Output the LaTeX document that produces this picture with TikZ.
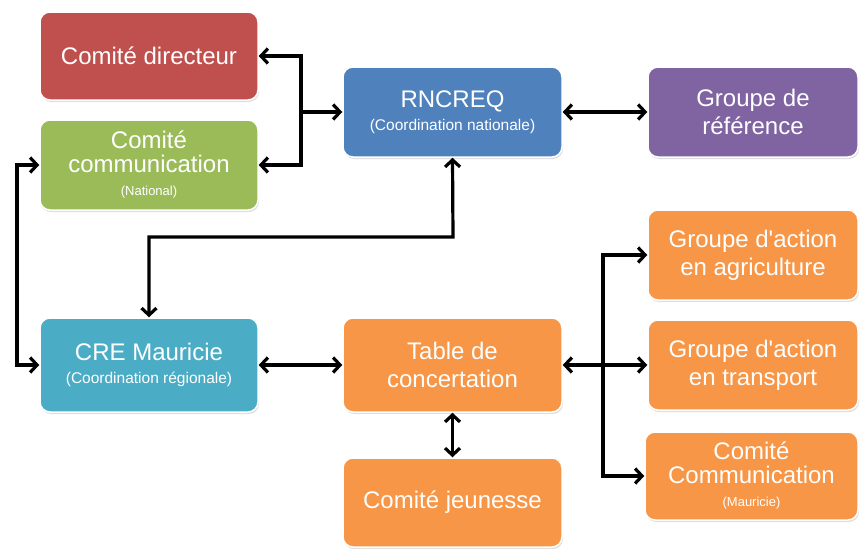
\documentclass[tikz,border=0pt]{standalone}
\usepackage{fontspec}
\setmainfont{Liberation Sans}
\usetikzlibrary{arrows.meta,shadows}
\definecolor{cred}{RGB}{192,80,77}
\definecolor{cgreen}{RGB}{155,187,89}
\definecolor{cblue}{RGB}{79,129,189}
\definecolor{cpurple}{RGB}{128,100,162}
\definecolor{ccyan}{RGB}{75,172,198}
\definecolor{corange}{RGB}{247,150,70}
\newcommand{\subtxt}{\fontsize{15.5}{17}\selectfont}
\newcommand{\tinytxt}{\fontsize{13}{14}\selectfont}
\newcommand{\apos}{\XeTeXglyph\XeTeXcharglyph"0027\relax}
\tikzset{
  box/.style={rounded corners=10pt, draw=white, line width=1.5pt, text=white,
    align=center, inner sep=2pt, font=\fontsize{24}{28}\selectfont,
    drop shadow={opacity=0.25, shadow xshift=1pt, shadow yshift=-2pt}},
  conn/.style={line width=3.2pt, >={Straight Barb[length=7pt,width=15pt]}}
}
\begin{document}
\begin{tikzpicture}[x=1pt,y=-1pt]
\useasboundingbox (0,0) rectangle (860,549);
\node[box, fill=cred, minimum width=218pt, minimum height=88pt] (dir) at (149,56) {Comité directeur};
\node[box, fill=cgreen, minimum width=218pt, minimum height=90pt] (comm) at (149,165) {Comité\\[-4pt] communication\\[-5pt] {\tinytxt (National)}};
\node[box, fill=cblue, minimum width=219pt, minimum height=90pt] (rnc) at (452.5,112) {RNCREQ\\[-5pt] {\subtxt (Coordination nationale)}};
\node[box, fill=cpurple, minimum width=210pt, minimum height=90pt] (ref) at (753,112) {Groupe de\\ référence};
\node[box, fill=ccyan, minimum width=218pt, minimum height=94pt] (cre) at (149,365) {CRE Mauricie\\[-5pt] {\subtxt (Coordination régionale)}};
\node[box, fill=corange, minimum width=219pt, minimum height=94pt] (tab) at (452.5,365) {Table de\\ concertation};
\node[box, fill=corange, minimum width=219pt, minimum height=89pt] (jeu) at (452.5,502.5) {Comité jeunesse};
\node[box, fill=corange, minimum width=210pt, minimum height=90pt] (agri) at (753,255) {Groupe d\apos action\\ en agriculture};
\node[box, fill=corange, minimum width=210pt, minimum height=90pt] (trans) at (753,365) {Groupe d\apos action\\ en transport};
\node[box, fill=corange, minimum width=213pt, minimum height=88pt] (mcom) at (751.5,476) {Comité\\[-4pt] Communication\\[-5pt] {\tinytxt (Mauricie)}};
\coordinate (bx) at (301,112);
\coordinate (lx) at (17,250);
\coordinate (tx) at (453,237);
\coordinate (fork) at (603,365);
\draw[conn,<->] (dir.east) -| (bx) |- (comm.east);
\draw[conn,->] (bx) -- (rnc.west);
\draw[conn,<->] (rnc.east) -- (ref.west);
\draw[conn,<->] (rnc.south) -- (tx) -| (cre.north);
\draw[conn,<->] (comm.west) -| (lx) |- (cre.west);
\draw[conn,<->] (cre.east) -- (tab.west);
\draw[conn,<->] (tab.south) -- (jeu.north);
\draw[conn,<-] (tab.east) -- (fork);
\draw[conn,->] (fork) |- (agri.west);
\draw[conn,->] (fork) |- (trans.west);
\draw[conn,->] (fork) |- (mcom.west);
\end{tikzpicture}
\end{document}
